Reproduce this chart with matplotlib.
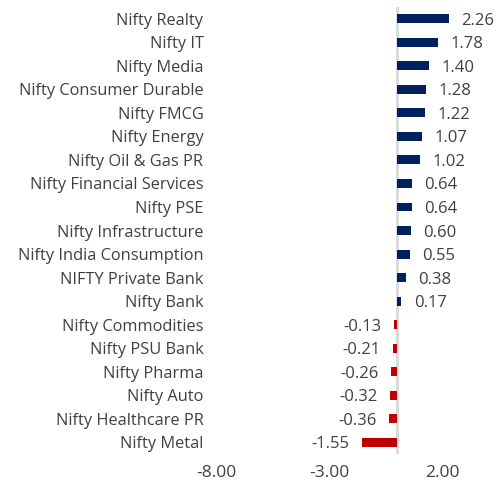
import matplotlib
matplotlib.use("Agg")
from matplotlib import pyplot as plt

names = ["Nifty Realty", "Nifty IT", "Nifty Media", "Nifty Consumer Durable",
         "Nifty FMCG", "Nifty Energy", "Nifty Oil & Gas PR",
         "Nifty Financial Services", "Nifty PSE", "Nifty Infrastructure",
         "Nifty India Consumption", "NIFTY Private Bank", "Nifty Bank",
         "Nifty Commodities", "Nifty PSU Bank", "Nifty Pharma", "Nifty Auto",
         "Nifty Healthcare PR", "Nifty Metal"]
values = [2.26, 1.78, 1.40, 1.28, 1.22, 1.07, 1.02, 0.64, 0.64, 0.60,
          0.55, 0.38, 0.17, -0.13, -0.21, -0.26, -0.32, -0.36, -1.55]
xticks = [-8, -3, 2]

plt.rcParams['font.family'] = ['Open Sans', 'DejaVu Sans']
txt = '#404040'

fig = plt.figure(figsize=(5, 4.82), dpi=100)
ax = fig.add_axes([0.432, 0.058, 0.544, 0.9275])

ys = list(range(len(names)))
cols = ['#002060' if v >= 0 else '#C00000' for v in values]
ax.barh(ys, values, height=0.38, color=cols, zorder=2)
ax.axvline(0, color='#d9d9d9', linewidth=2, zorder=1)

for y, v in zip(ys, values):
    if v >= 0:
        ax.annotate('{:.2f}'.format(v), (v, y), xytext=(9, 0), textcoords='offset points',
                    ha='left', va='center_baseline', fontsize=12, color=txt)
    else:
        ax.annotate('{:.2f}'.format(v), (v, y), xytext=(-9, 0), textcoords='offset points',
                    ha='right', va='center_baseline', fontsize=12, color=txt)

ax.set_xlim(-8, 4)
ax.set_ylim(len(names) - 0.5, -0.5)
ax.set_xticks(xticks)
ax.set_xticklabels(['{:.2f}'.format(t) for t in xticks], fontsize=12.5, color=txt)
ax.set_yticks(ys)
ax.set_yticklabels(names, fontsize=11.8, color=txt)
ax.tick_params(length=0)
ax.tick_params(axis='y', pad=9)
ax.tick_params(axis='x', pad=8)
for s in ax.spines.values():
    s.set_visible(False)

fig.savefig('out.png', dpi=100)
